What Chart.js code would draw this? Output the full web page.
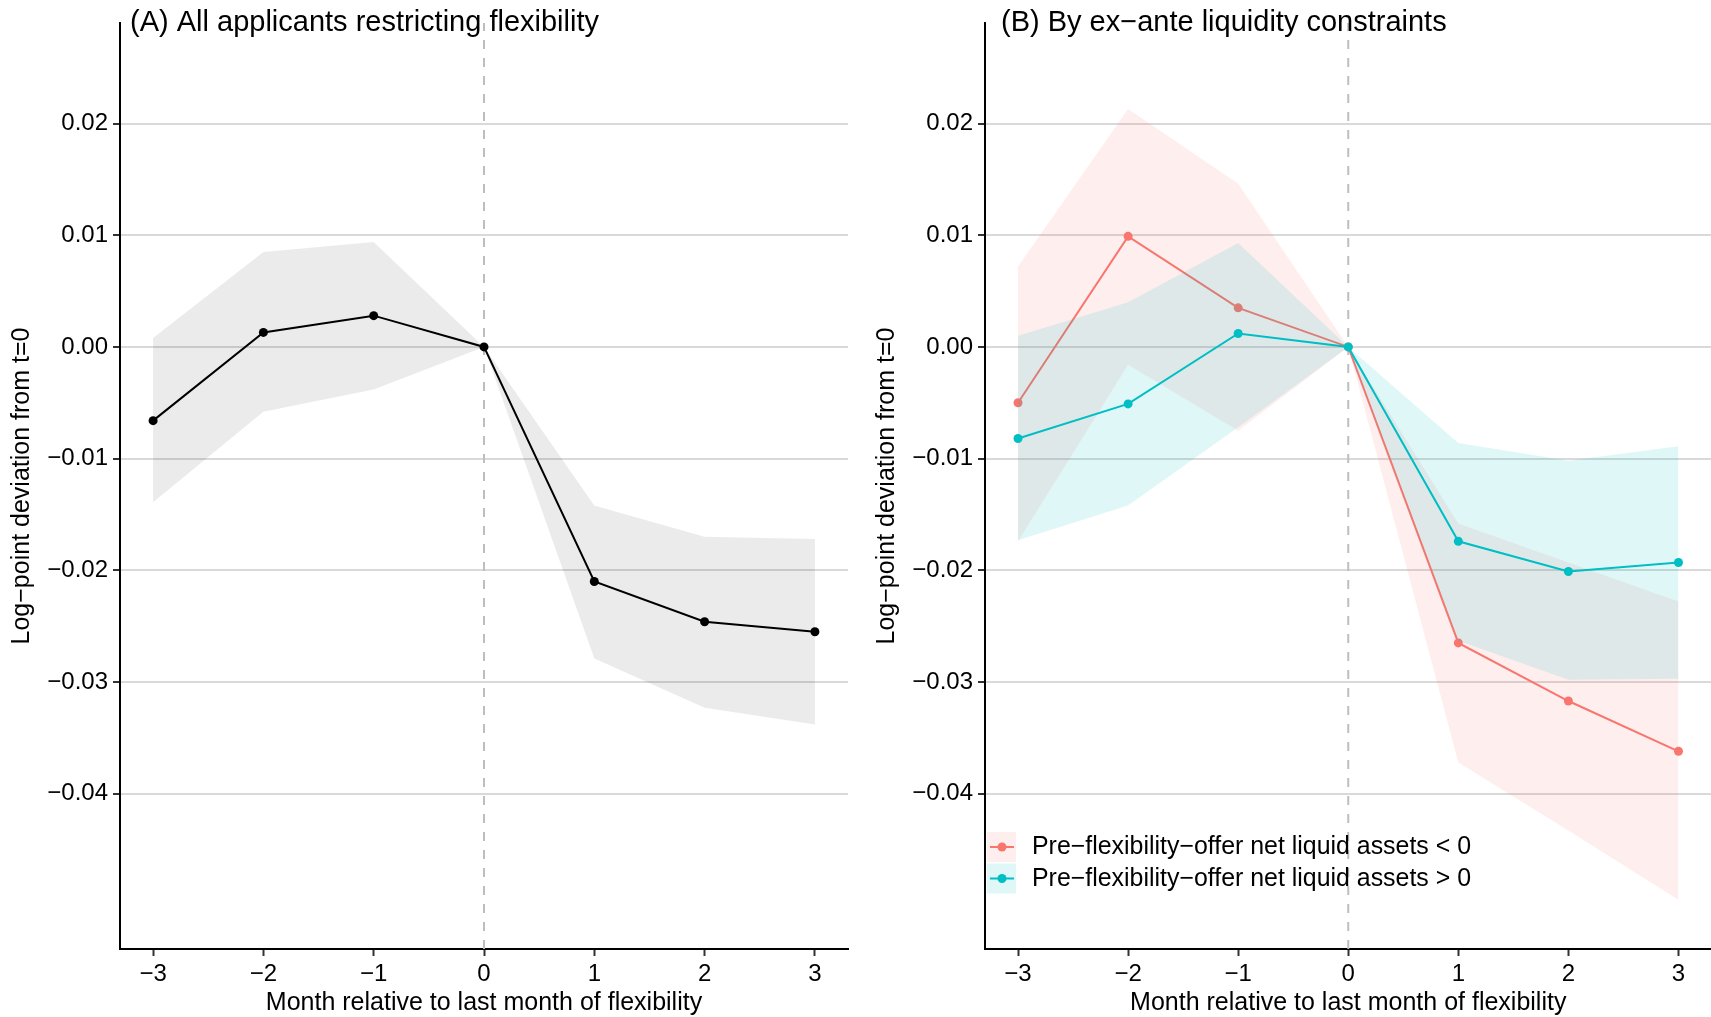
<!DOCTYPE html>
<html>
<head>
<meta charset="utf-8">
<script src="https://cdn.jsdelivr.net/npm/chart.js@4.4.1/dist/chart.umd.min.js"></script>
<style>
  html, body { margin: 0; padding: 0; background: #fff; }
  #wrap { position: relative; width: 1711px; height: 1017px; overflow: hidden; }
  #boxA { position: absolute; left: 0; top: 0; width: 860px; height: 1017px; }
  #boxB { position: absolute; left: 865px; top: 0; width: 851px; height: 1017px; }
</style>
</head>
<body>
<div id="wrap">
  <div id="boxA"><canvas id="chartA"></canvas></div>
  <div id="boxB"><canvas id="chartB"></canvas></div>
</div>
<script>
// months relative to last month of flexibility
const months = [-3, -2, -1, 0, 1, 2, 3];
const monthLabels = ["\u22123", "\u22122", "\u22121", "0", "1", "2", "3"];
const yTicks = [-0.04, -0.03, -0.02, -0.01, 0, 0.01, 0.02];
const yTickLabels = ["\u22120.04", "\u22120.03", "\u22120.02", "\u22120.01", "0.00", "0.01", "0.02"];

// panel A: all applicants
const allEst = [-0.0066, 0.0013, 0.0028, 0, -0.0210, -0.0246, -0.0255];
const allUpper = [0.0008, 0.0085, 0.0094, 0, -0.0142, -0.0170, -0.0172];
const allLower = [-0.0139, -0.0058, -0.0038, 0, -0.0279, -0.0323, -0.0338];

// panel B: by liquidity
const negEst = [-0.0050, 0.0099, 0.0035, 0, -0.0265, -0.0317, -0.0362];
const negUpper = [0.0072, 0.0213, 0.0146, 0, -0.0158, -0.0193, -0.0228];
const negLower = [-0.0174, -0.0016, -0.0075, 0, -0.0372, -0.0433, -0.0495];

const posEst = [-0.0082, -0.0051, 0.0012, 0, -0.0174, -0.0201, -0.0193];
const posUpper = [0.0010, 0.0040, 0.0093, 0, -0.0086, -0.0102, -0.0089];
const posLower = [-0.0173, -0.0142, -0.0072, 0, -0.0263, -0.0298, -0.0297];

const seriesNames = [
  "Pre\u2212flexibility\u2212offer net liquid assets < 0",
  "Pre\u2212flexibility\u2212offer net liquid assets > 0"
];

const RED = "#F8766D";
const TEAL = "#00BFC4";
const RED_FILL = "rgba(248,118,109,0.12)";
const TEAL_FILL = "rgba(0,191,196,0.12)";
const FONT = "'Liberation Sans', Arial, Helvetica, sans-serif";

const pts = (arr) => months.map((m, i) => ({ x: m, y: arr[i] }));

function lineSet(label, arr, color) {
  return {
    label: label,
    data: pts(arr),
    borderColor: color,
    backgroundColor: color,
    borderWidth: 2,
    pointRadius: 4.5,
    pointBorderWidth: 0,
    pointBackgroundColor: color,
    fill: false,
    tension: 0
  };
}

function bandSet(arr, fillColor, fillTo) {
  return {
    label: "",
    data: pts(arr),
    borderWidth: 0,
    borderColor: "rgba(0,0,0,0)",
    backgroundColor: fillColor,
    pointRadius: 0,
    fill: fillTo,
    tension: 0
  };
}

// dashed line at month 0 and panel title
const panelDecor = {
  id: "panelDecor",
  beforeDatasetsDraw(chart, args, opts) {
    const { ctx, chartArea, scales } = chart;
    const x = scales.x.getPixelForValue(0);
    ctx.save();
    ctx.strokeStyle = "#BEBEBE";
    ctx.lineWidth = 2;
    ctx.setLineDash([9, 9]);
    ctx.beginPath();
    ctx.moveTo(x, chartArea.bottom);
    ctx.lineTo(x, chartArea.top);
    ctx.stroke();
    ctx.restore();
  },
  afterDraw(chart, args, opts) {
    const ctx = chart.ctx;
    ctx.save();
    ctx.fillStyle = "#000";
    ctx.font = "29px " + FONT;
    ctx.textBaseline = "alphabetic";
    ctx.textAlign = "left";
    ctx.fillText(opts.text, opts.x, 31);
    ctx.restore();
  }
};

// legend inside panel B
const insideLegend = {
  id: "insideLegend",
  afterDraw(chart, args, opts) {
    if (!opts.items) return;
    const ctx = chart.ctx;
    const left = chart.chartArea.left + 2;
    opts.items.forEach((it, i) => {
      const top = opts.top + i * 31.5;
      ctx.save();
      ctx.fillStyle = it.fill;
      ctx.fillRect(left, top, 29, 30);
      ctx.strokeStyle = it.color;
      ctx.lineWidth = 2;
      ctx.beginPath();
      ctx.moveTo(left + 3, top + 15);
      ctx.lineTo(left + 27, top + 15);
      ctx.stroke();
      ctx.fillStyle = it.color;
      ctx.beginPath();
      ctx.arc(left + 15, top + 15, 4.5, 0, Math.PI * 2);
      ctx.fill();
      ctx.fillStyle = "#000";
      ctx.font = "25px " + FONT;
      ctx.textBaseline = "middle";
      ctx.fillText(it.text, left + 45, top + 15.5, 439);
      ctx.restore();
    });
  }
};

function makeOptions(title, titleX, padRight, legendItems) {
  return {
    responsive: true,
    maintainAspectRatio: false,
    animation: false,
    layout: { padding: { top: 23, right: padRight, bottom: 0, left: 0 } },
    plugins: {
      legend: { display: false },
      tooltip: { enabled: false },
      panelDecor: { text: title, x: titleX },
      insideLegend: { items: legendItems, top: 832 }
    },
    scales: {
      x: {
        type: "linear",
        min: -3.3,
        max: 3.3,
        afterBuildTicks: (s) => { s.ticks = months.map((v) => ({ value: v })); },
        afterFit: (s) => { s.height = 68; },
        ticks: {
          callback: (v) => monthLabels[months.indexOf(v)],
          color: "#000",
          font: { family: FONT, size: 24 },
          padding: 4,
          maxRotation: 0
        },
        grid: {
          drawOnChartArea: false,
          tickLength: 7,
          tickColor: "#333",
          tickWidth: 2
        },
        border: { display: true, color: "#000", width: 2 },
        title: {
          display: true,
          text: "Month relative to last month of flexibility",
          color: "#000",
          font: { family: FONT, size: 25, lineHeight: 1.2 },
          padding: { top: 0, bottom: -1 }
        }
      },
      y: {
        type: "linear",
        min: -0.0539,
        max: 0.029,
        afterBuildTicks: (s) => { s.ticks = yTicks.map((v) => ({ value: v })); },
        afterFit: (s) => { s.width = 120; },
        ticks: {
          callback: (v) => yTickLabels[yTicks.findIndex((t) => Math.abs(t - v) < 1e-9)],
          color: "#000",
          font: { family: FONT, size: 24 },
          padding: 5
        },
        grid: {
          color: "#D9D9D9",
          lineWidth: 2,
          tickLength: 7,
          tickColor: "#333",
          tickWidth: 2
        },
        border: { display: true, color: "#000", width: 2 },
        title: {
          display: true,
          text: "Log\u2212point deviation from t=0",
          color: "#000",
          font: { family: FONT, size: 25, lineHeight: 1.2 },
          padding: { top: 7, bottom: 0 }
        }
      }
    }
  };
}

new Chart(document.getElementById("chartA"), {
  type: "line",
  data: {
    datasets: [
      lineSet("All applicants", allEst, "#000"),
      bandSet(allUpper, "rgba(0,0,0,0.08)", "+1"),
      bandSet(allLower, "rgba(0,0,0,0)", false)
    ]
  },
  options: makeOptions("(A) All applicants restricting flexibility", 130, 12, null),
  plugins: [panelDecor, insideLegend]
});

new Chart(document.getElementById("chartB"), {
  type: "line",
  data: {
    datasets: [
      lineSet(seriesNames[1], posEst, TEAL),
      bandSet(posUpper, TEAL_FILL, "+1"),
      bandSet(posLower, "rgba(0,0,0,0)", false),
      lineSet(seriesNames[0], negEst, RED),
      bandSet(negUpper, RED_FILL, "+1"),
      bandSet(negLower, "rgba(0,0,0,0)", false)
    ]
  },
  options: makeOptions("(B) By ex\u2212ante liquidity constraints", 136, 0, [
    { text: seriesNames[0], color: RED, fill: RED_FILL },
    { text: seriesNames[1], color: TEAL, fill: TEAL_FILL }
  ]),
  plugins: [panelDecor, insideLegend]
});
</script>
</body>
</html>
